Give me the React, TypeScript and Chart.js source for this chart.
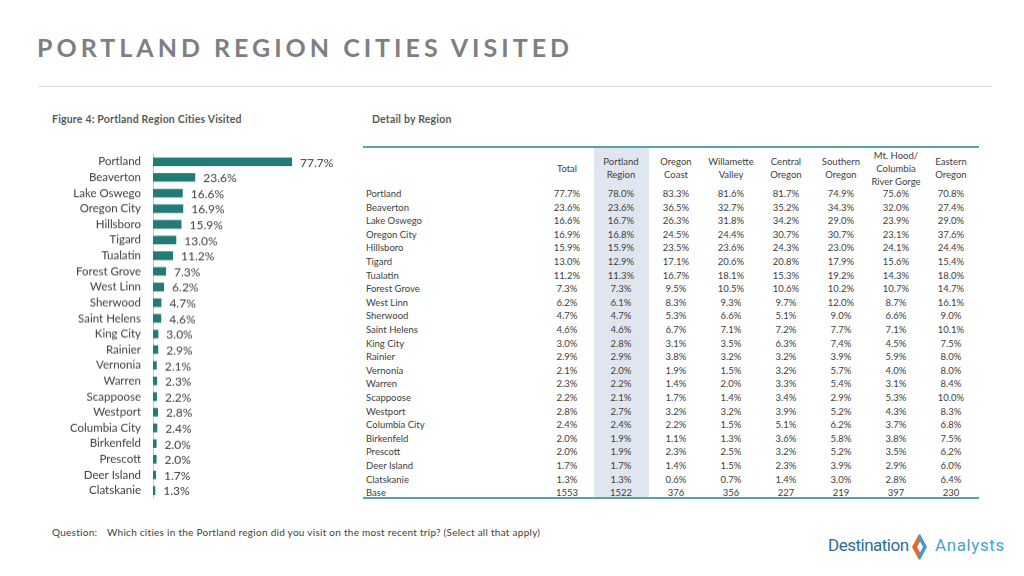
import React, { useEffect, useRef } from "react";
import { Chart, registerables } from "chart.js";

Chart.register(...registerables);

const cities = [
  "Portland", "Beaverton", "Lake Oswego", "Oregon City", "Hillsboro", "Tigard", "Tualatin",
  "Forest Grove", "West Linn", "Sherwood", "Saint Helens", "King City", "Rainier", "Vernonia",
  "Warren", "Scappoose", "Westport", "Columbia City", "Birkenfeld", "Prescott", "Deer Island", "Clatskanie",
];
const totalPct = [77.7, 23.6, 16.6, 16.9, 15.9, 13.0, 11.2, 7.3, 6.2, 4.7, 4.6, 3.0, 2.9, 2.1, 2.3, 2.2, 2.8, 2.4, 2.0, 2.0, 1.7, 1.3];
const portlandRegion = [78.0, 23.6, 16.7, 16.8, 15.9, 12.9, 11.3, 7.3, 6.1, 4.7, 4.6, 2.8, 2.9, 2.0, 2.2, 2.1, 2.7, 2.4, 1.9, 1.9, 1.7, 1.3];
const oregonCoast = [83.3, 36.5, 26.3, 24.5, 23.5, 17.1, 16.7, 9.5, 8.3, 5.3, 6.7, 3.1, 3.8, 1.9, 1.4, 1.7, 3.2, 2.2, 1.1, 2.3, 1.4, 0.6];
const willametteValley = [81.6, 32.7, 31.8, 24.4, 23.6, 20.6, 18.1, 10.5, 9.3, 6.6, 7.1, 3.5, 3.2, 1.5, 2.0, 1.4, 3.2, 1.5, 1.3, 2.5, 1.5, 0.7];
const centralOregon = [81.7, 35.2, 34.2, 30.7, 24.3, 20.8, 15.3, 10.6, 9.7, 5.1, 7.2, 6.3, 3.2, 3.2, 3.3, 3.4, 3.9, 5.1, 3.6, 3.2, 2.3, 1.4];
const southernOregon = [74.9, 34.3, 29.0, 30.7, 23.0, 17.9, 19.2, 10.2, 12.0, 9.0, 7.7, 7.4, 3.9, 5.7, 5.4, 2.9, 5.2, 6.2, 5.8, 5.2, 3.9, 3.0];
const mtHood = [75.6, 32.0, 23.9, 23.1, 24.1, 15.6, 14.3, 10.7, 8.7, 6.6, 7.1, 4.5, 5.9, 4.0, 3.1, 5.3, 4.3, 3.7, 3.8, 3.5, 2.9, 2.8];
const easternOregon = [70.8, 27.4, 29.0, 37.6, 24.4, 15.4, 18.0, 14.7, 16.1, 9.0, 10.1, 7.5, 8.0, 8.0, 8.4, 10.0, 8.3, 6.8, 7.5, 6.2, 6.0, 6.4];
const columnHeaders = [
  ["Total"], ["Portland", "Region"], ["Oregon", "Coast"], ["Willamette", "Valley"], ["Central", "Oregon"],
  ["Southern", "Oregon"], ["Mt. Hood/", "Columbia", "River Gorge"], ["Eastern", "Oregon"],
];
const bases = [1553, 1522, 376, 356, 227, 219, 397, 230];

const FONT = "Lato, 'Open Sans', sans-serif";
const TEXT = "#404040";

const barLabelPlugin = {
  id: "barLabels",
  afterDatasetsDraw(chart: any) {
    const ctx = chart.ctx;
    const meta = chart.getDatasetMeta(0);
    ctx.save();
    ctx.font = `12px ${FONT}`;
    ctx.fillStyle = TEXT;
    ctx.textBaseline = "middle";
    ctx.textAlign = "left";
    meta.data.forEach((bar: any, i: number) => {
      const v = chart.data.datasets[0].data[i];
      ctx.fillText(v.toFixed(1) + "%", bar.x + 8, bar.y + 1);
    });
    ctx.restore();
  },
};

function BarChart() {
  const ref = useRef<HTMLCanvasElement | null>(null);
  useEffect(() => {
    if (!ref.current) return;
    const chart = new Chart(ref.current, {
      type: "bar",
      data: {
        labels: cities,
        datasets: [
          {
            data: totalPct,
            backgroundColor: "#237b78",
            barPercentage: 0.55,
            categoryPercentage: 1,
          },
        ],
      },
      options: {
        indexAxis: "y",
        animation: false,
        responsive: true,
        maintainAspectRatio: false,
        layout: { padding: { top: 0, bottom: 0, right: 8, left: 0 } },
        plugins: { legend: { display: false }, tooltip: { enabled: false } },
        scales: {
          x: { display: false, min: 0, max: 100 },
          y: {
            afterFit: (s: any) => { s.width = 113; },
            grid: { display: false, drawTicks: false },
            border: { display: true, color: "#b9d6d5", width: 1 },
            ticks: { color: TEXT, font: { family: FONT, size: 11.5 }, padding: 12, autoSkip: false },
          },
        },
      },
      plugins: [barLabelPlugin],
    } as any);
    return () => chart.destroy();
  }, []);
  return <canvas ref={ref} />;
}

const colX = [567, 621, 676, 731, 786, 841, 896, 951];
const colW = 55;
const rowY0 = 194;
const rowH = 13.6;

function Table() {
  const cols = [totalPct, portlandRegion, oregonCoast, willametteValley, centralOregon, southernOregon, mtHood, easternOregon];
  const cells: any[] = [];
  const cellStyle = (x: number, y: number, lh: number): React.CSSProperties => ({
    position: "absolute", left: x - colW / 2, top: y - lh / 2, width: colW, textAlign: "center",
    lineHeight: lh + "px", fontSize: 9.5, color: TEXT, whiteSpace: "nowrap",
  });
  columnHeaders.forEach((h, c) => {
    const lh = 13;
    const y0 = 168 - (h.length * lh) / 2;
    cells.push(
      <div key={"h" + c} style={{ position: "absolute", left: colX[c] - 32, top: y0, width: 64, textAlign: "center", lineHeight: lh + "px", fontSize: 9.5, color: TEXT }}>
        {h.map((t, k) => <div key={k}>{t}</div>)}
      </div>
    );
  });
  cities.forEach((name, r) => {
    const y = rowY0 + r * rowH;
    cells.push(
      <div key={"l" + r} style={{ position: "absolute", left: 366, top: y - 7, lineHeight: "14px", fontSize: 9.5, color: TEXT, whiteSpace: "nowrap" }}>{name}</div>
    );
    cols.forEach((col, c) => {
      cells.push(<div key={r + "-" + c} style={cellStyle(colX[c], y, 14)}>{col[r].toFixed(1)}%</div>);
    });
  });
  const by = rowY0 + cities.length * rowH;
  cells.push(
    <div key="base" style={{ position: "absolute", left: 366, top: by - 7, lineHeight: "14px", fontSize: 9.5, color: TEXT }}>Base</div>
  );
  bases.forEach((b, c) => cells.push(<div key={"b" + c} style={cellStyle(colX[c], by, 14)}>{b}</div>));
  return (
    <>
      <div style={{ position: "absolute", left: 594, top: 147, width: 55, height: 350, background: "#dfe6ef" }} />
      <div style={{ position: "absolute", left: 363, top: 145.5, width: 616, height: 2, background: "#5aa3a3" }} />
      <div style={{ position: "absolute", left: 363, top: 497, width: 616, height: 2, background: "#5aa3a3" }} />
      {cells}
    </>
  );
}

export default function App() {
  return (
    <div style={{ position: "fixed", left: 0, top: 0, width: 1024, height: 576, background: "#fff", fontFamily: FONT, overflow: "hidden" }}>
      <div style={{ position: "absolute", left: 37, top: 30, fontSize: 25, fontWeight: 700, letterSpacing: 4.0, color: "#7f7f7f", whiteSpace: "nowrap", lineHeight: "34px" }}>
        PORTLAND REGION CITIES VISITED
      </div>
      <div style={{ position: "absolute", left: 38, top: 86, width: 954, height: 1, background: "#d9d9d9" }} />
      <div style={{ position: "absolute", left: 52, top: 112, fontSize: 10.5, letterSpacing: 0.2, fontWeight: 700, color: "#595959", lineHeight: "14px", whiteSpace: "nowrap" }}>
        Figure 4: Portland Region Cities Visited
      </div>
      <div style={{ position: "absolute", left: 372, top: 112, fontSize: 10.5, letterSpacing: 0.2, fontWeight: 700, color: "#595959", lineHeight: "14px", whiteSpace: "nowrap" }}>
        Detail by Region
      </div>
      <div style={{ position: "absolute", left: 40, top: 135.4, width: 300, height: 381.3 }}>
        <BarChart />
      </div>
      <Table />
      <div style={{ position: "absolute", left: 52, top: 525, fontSize: 10, letterSpacing: 0.27, color: TEXT, lineHeight: "14px", whiteSpace: "nowrap" }}>
        <span style={{ display: "inline-block", width: 55 }}>Question:</span>
        Which cities in the Portland region did you visit on the most recent trip? (Select all that apply)
      </div>
      <div style={{ position: "absolute", left: 828, top: 533, fontFamily: "Roboto, sans-serif", fontSize: 17, letterSpacing: -0.5, lineHeight: "24px", color: "#2b6f8c", whiteSpace: "nowrap" }}>
        Destination
      </div>
      <svg style={{ position: "absolute", left: 907, top: 532 }} width="26" height="30" viewBox="0 0 26 30">
        <polygon points="12,2 5,15 12,28 15,24 10,15 15,6" fill="#e8692a" />
        <polygon points="13,2 20,15 13,28 11,24 16,15 11,6" fill="#3d9fca" />
      </svg>
      <div style={{ position: "absolute", left: 935, top: 533, fontFamily: "Roboto, sans-serif", fontSize: 17, letterSpacing: 0.6, lineHeight: "24px", color: "#4aa3c8", whiteSpace: "nowrap" }}>
        Analysts
      </div>
    </div>
  );
}
